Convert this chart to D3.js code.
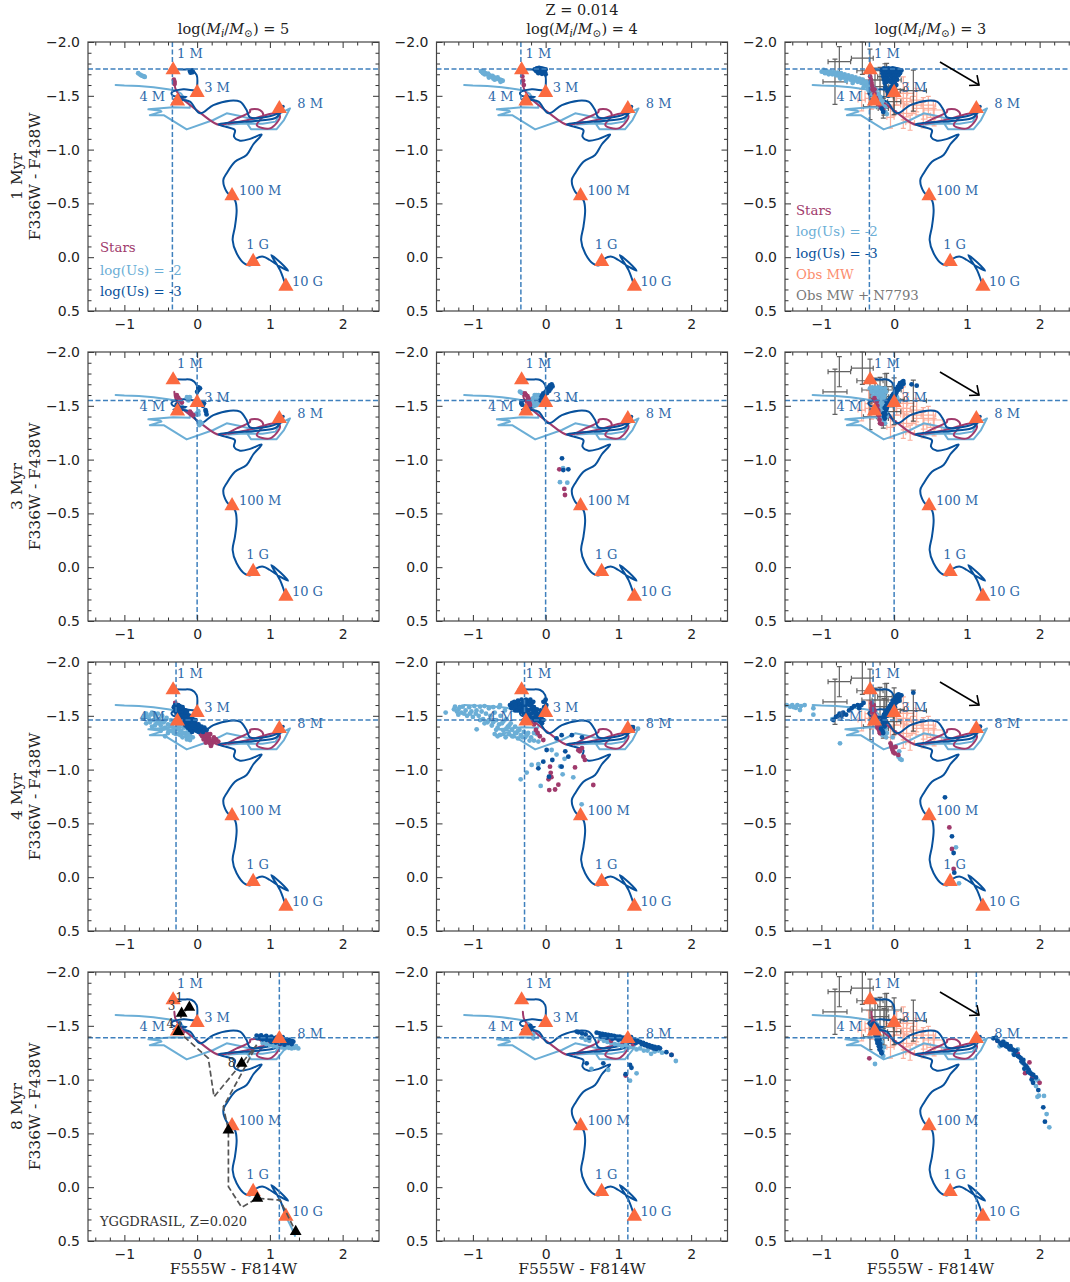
<!DOCTYPE html>
<html>
<head>
<meta charset="utf-8">
<script src="https://cdn.jsdelivr.net/npm/d3@7"></script>
<style>
body { margin: 0; background: #fff; }
svg { display: block; }
</style>
</head>
<body>
<div id="fig"></div>
<script>
// tracks
var trackLight = [[-1.12,-1.6],[-1.0,-1.595],[-0.8,-1.59],[-0.6,-1.58],[-0.4,-1.56],[-0.3,-1.55],[-0.22,-1.52],[-0.17,-1.47],[-0.1,-1.42],[-0.1,-1.39],[-0.33,-1.393],[-0.67,-1.374],[-0.5,-1.36],[-0.49,-1.353],[-0.65,-1.32],[-0.46,-1.32],[-0.144,-1.188],[0.223,-1.275],[0.406,-1.337],[0.59,-1.312],[0.82,-1.27],[0.68,-1.25],[0.74,-1.19],[1.09,-1.188],[1.194,-1.275],[1.277,-1.383],[1.14,-1.337],[1.08,-1.26],[0.9,-1.24],[0.6,-1.24],[0.4,-1.23]];
var trackStars = [[-0.313,-1.63],[-0.3,-1.57],[-0.24,-1.5],[-0.098,-1.414],[0.04,-1.343],[0.314,-1.228],[0.544,-1.29],[0.727,-1.35],[0.73,-1.37],[0.864,-1.368],[0.91,-1.32],[0.82,-1.228],[1.0,-1.197],[1.14,-1.306],[1.09,-1.337],[0.727,-1.28],[0.43,-1.24]];
var trackMain = [[-0.373,-1.746],[-0.2,-1.745],[-0.075,-1.74],[-0.006,-1.693],[0,-1.585],[-0.006,-1.554],[-0.19,-1.56],[-0.35,-1.53],[-0.33,-1.5],[-0.144,-1.49],[-0.327,-1.467],[-0.2,-1.46],[-0.098,-1.445],[0.04,-1.337],[0.223,-1.414],[0.452,-1.455],[0.59,-1.445],[0.68,-1.368],[0.727,-1.3],[1.09,-1.33],[1.16,-1.368],[1.09,-1.3],[0.864,-1.27],[0.292,-1.235],[0.406,-1.21],[0.52,-1.18],[0.507,-1.12],[0.59,-1.083],[0.73,-1.1],[0.887,-1.14],[0.773,-1.05],[0.68,-0.95],[0.52,-0.888],[0.406,-0.78],[0.36,-0.717],[0.406,-0.609],[0.52,-0.53],[0.543,-0.44],[0.52,-0.284],[0.488,-0.16],[0.543,-0.036],[0.658,0.063],[0.75,0.072],[0.818,0.01],[0.91,-0.005],[1.0,0.026],[1.14,0.088],[1.25,0.125],[1.02,-0.02],[1.14,0.12],[1.22,0.27]];
var trackEnd = [[1.18,-1.4],[1.17,-1.39]];
var trackTail = [[1.22,0.27],[1.3,0.38],[1.35,0.46]];

// age markers
var ageNames = ["1 M","3 M","4 M","8 M","100 M","1 G","10 G"];
var ageColors = [-0.33,0.0,-0.27,1.13,0.48,0.77,1.22];
var ageUB = [-1.74,-1.53,-1.45,-1.38,-0.57,0.04,0.27];

// yggdrasil
var yggX = [-0.107,-0.213,-0.258,0.612,0.43,0.828,1.355];
var yggY = [-1.672,-1.616,-1.446,-1.151,-0.53,0.103,0.413];
var yggNames = ["1","3","4","8"];
var yggPath = [[-0.107,-1.672],[-0.213,-1.616],[-0.258,-1.446],[0.154,-1.198],[0.232,-0.84],[0.612,-1.151],[0.818,-1.322],[0.612,-1.058],[0.36,-0.748],[0.43,-0.53],[0.43,-0.005],[0.612,0.187],[0.828,0.103],[1.14,0.12],[1.355,0.413]];

// observed clusters: x, y, xerr, yerr
var obsMW = [[-0.309,-1.476,0.09,0.1],[0.035,-1.523,0.15,0.11],[0.126,-1.476,0.1,0.2],[0.172,-1.445,0.07,0.14],[0.126,-1.337,0.12,0.14],[0.401,-1.383,0.15,0.1],[0.539,-1.368,0.13,0.09],[0.47,-1.414,0.1,0.08],[0.401,-1.322,0.1,0.12],[0.172,-1.523,0.1,0.1],[0.264,-1.414,0.12,0.08],[-0.011,-1.414,0.1,0.1],[0.31,-1.46,0.09,0.11],[-0.446,-1.46,0.05,0.1],[-0.05,-1.3,0.05,0.1],[0.55,-1.3,0.1,0.08],[-0.35,-1.52,0.05,0.12],[0.22,-1.25,0.06,0.07]];
var obsN7793 = [[-0.753,-1.817,0.155,0.14],[-0.813,-1.63,0.165,0.21],[-0.437,-1.85,0.15,0.15],[-0.332,-1.733,0.18,0.2],[-0.103,-1.647,0.2,0.155],[0.264,-1.548,0.18,0.19],[0,-1.56,0.14,0.2],[-0.332,-1.399,0.09,0.12],[-0.194,-1.585,0.12,0.18],[-0.14,-1.49,0.13,0.17],[-0.263,-1.647,0.18,0.11],[-0.126,-1.678,0.1,0.12],[0,-1.445,0.09,0.12],[-0.149,-1.383,0.07,0.09]];

// cluster samples per panel: row, column
var stars_11 = [[-0.32,-1.65],[-0.31,-1.63],[-0.31,-1.61]];
var us2_11 = [[-0.81,-1.71],[-0.79,-1.7],[-0.77,-1.69],[-0.75,-1.685],[-0.73,-1.68],[-0.72,-1.675]];
var us3_11 = [[-0.1,-1.73],[-0.08,-1.725],[-0.06,-1.72],[-0.09,-1.715],[-0.07,-1.735]];

var stars_12 = [[-0.32,-1.68],[-0.31,-1.64],[-0.3,-1.6]];
var us2_12 = [[-0.89,-1.73],[-0.87,-1.72],[-0.85,-1.725],[-0.83,-1.71],[-0.81,-1.7],[-0.79,-1.705],[-0.77,-1.69],[-0.75,-1.68],[-0.73,-1.685],[-0.71,-1.67],[-0.69,-1.665],[-0.67,-1.66],[-0.65,-1.655],[-0.63,-1.65],[-0.61,-1.645],[-0.59,-1.64],[-0.84,-1.7],[-0.72,-1.66],[-0.66,-1.67],[-0.86,-1.71],[-0.78,-1.67],[-0.7,-1.65],[-0.62,-1.63]];
var us3_12 = [[-0.15,-1.745],[-0.12,-1.755],[-0.09,-1.76],[-0.06,-1.755],[-0.03,-1.75],[0,-1.745],[-0.13,-1.73],[-0.1,-1.735],[-0.07,-1.73],[-0.04,-1.725],[-0.01,-1.72],[-0.1,-1.71],[-0.05,-1.705],[0,-1.7]];

var stars_13 = [[-0.33,-1.68],[-0.32,-1.65],[-0.31,-1.62],[-0.3,-1.59],[-0.286,-1.554],[-0.27,-1.52],[-0.25,-1.48],[-0.24,-1.46],[-0.21,-1.42],[-0.18,-1.39],[-0.15,-1.37],[-0.27,-1.56],[-0.3,-1.56]];
var us2_13 = [[-0.996,-1.724],[-0.97,-1.74],[-0.95,-1.71],[-0.93,-1.73],[-0.9,-1.7],[-0.88,-1.725],[-0.85,-1.7],[-0.83,-1.72],[-0.8,-1.69],[-0.78,-1.715],[-0.75,-1.68],[-0.73,-1.71],[-0.7,-1.67],[-0.68,-1.7],[-0.65,-1.66],[-0.63,-1.69],[-0.6,-1.65],[-0.58,-1.68],[-0.55,-1.64],[-0.53,-1.67],[-0.5,-1.63],[-0.48,-1.66],[-0.45,-1.62],[-0.43,-1.65],[-0.4,-1.6],[-0.38,-1.63],[-0.36,-1.58],[-0.33,-1.6],[-0.31,-1.56],[-0.29,-1.58],[-0.27,-1.53],[-0.25,-1.56],[-0.24,-1.5],[-0.22,-1.52],[-0.2,-1.46],[-0.19,-1.49],[-0.17,-1.42],[-0.16,-1.45],[-0.15,-1.38],[-0.13,-1.4],[-0.12,-1.35],[-0.1,-1.33],[-0.96,-1.72],[-0.91,-1.72],[-0.86,-1.71],[-0.81,-1.7],[-0.76,-1.695],[-0.71,-1.69],[-0.66,-1.68],[-0.61,-1.67],[-0.56,-1.66],[-0.51,-1.65],[-0.46,-1.64],[-0.41,-1.62],[-0.35,-1.61],[-0.28,-1.55],[-0.23,-1.48],[-0.74,-1.66],[-0.66,-1.64],[-0.57,-1.62],[-0.42,-1.58],[-0.35,-1.55],[-0.3,-1.51]];
var us3_13 = [[-0.17,-1.74],[-0.14,-1.755],[-0.11,-1.75],[-0.08,-1.755],[-0.05,-1.75],[-0.02,-1.755],[0.01,-1.75],[0.04,-1.745],[0.07,-1.74],[0.1,-1.735],[-0.16,-1.71],[-0.13,-1.72],[-0.1,-1.715],[-0.07,-1.72],[-0.04,-1.715],[-0.01,-1.72],[0.02,-1.71],[0.05,-1.715],[0.08,-1.71],[-0.15,-1.68],[-0.12,-1.69],[-0.09,-1.68],[-0.06,-1.69],[-0.03,-1.68],[0,-1.69],[0.03,-1.68],[0.06,-1.69],[-0.14,-1.65],[-0.11,-1.66],[-0.02,-1.65],[0.01,-1.66],[0.04,-1.65],[-0.13,-1.62],[-0.1,-1.63],[0.01,-1.62],[0.03,-1.6],[0,-1.58],[-0.02,-1.56],[-0.04,-1.54],[-0.06,-1.52],[-0.08,-1.5],[-0.17,-1.38],[-0.15,-1.35],[-0.07,-1.65],[-0.05,-1.63],[-0.02,-1.61],[-0.04,-1.58],[-0.07,-1.56],[-0.09,-1.54],[-0.12,-1.58]];

var stars_21 = [[-0.28,-1.6],[-0.26,-1.575],[-0.236,-1.554],[-0.21,-1.53],[-0.098,-1.445],[-0.08,-1.43],[-0.052,-1.414]];
var us2_21 = [[-0.14,-1.58],[-0.121,-1.575],[-0.1,-1.58],[-0.12,-1.55],[0.016,-1.45],[0,-1.43],[-0.02,-1.42],[0.02,-1.42],[0.062,-1.337],[0.04,-1.35],[0.03,-1.32]];
var us3_21 = [[0.016,-1.647],[0.039,-1.662],[0.02,-1.67],[0,-1.63],[0.094,-1.523],[0.07,-1.53],[0.05,-1.51],[0.08,-1.5],[0.122,-1.445],[0.13,-1.42],[0.115,-1.46],[-0.28,-1.51],[-0.27,-1.49]];

var stars_22 = [[-0.284,-1.616],[-0.27,-1.6],[-0.25,-1.59],[-0.238,-1.57],[-0.25,-1.55],[-0.23,-1.54],[-0.215,-1.507],[-0.22,-1.52],[0.188,-0.91],[0.257,-0.727],[0.266,-0.671]];
var us2_22 = [[-0.353,-1.631],[-0.33,-1.62],[-0.17,-1.57],[-0.1,-1.6],[-0.124,-1.507],[-0.16,-1.53],[-0.13,-1.56],[-0.15,-1.6],[-0.1,-1.56],[-0.08,-1.53],[-0.16,-1.5],[-0.11,-1.52],[-0.19,-1.52],[-0.19,-1.56],[-0.13,-1.6],[-0.07,-1.57],[0.197,-0.79],[0.298,-0.786],[0.24,-0.92]];
var us3_22 = [[0.083,-1.7],[0.06,-1.69],[0.095,-1.68],[0.04,-1.67],[0.07,-1.66],[0.037,-1.662],[0.02,-1.65],[0.05,-1.64],[0,-1.63],[0.02,-1.62],[-0.032,-1.616],[-0.01,-1.6],[-0.045,-1.6],[-0.02,-1.58],[-0.055,-1.585],[-0.05,-1.56],[-0.07,-1.55],[-0.33,-1.54],[-0.32,-1.51],[0.225,-1.012],[0.243,-0.903],[0.312,-0.91]];

var stars_23 = [[-0.27,-1.57],[-0.24,-1.538],[-0.23,-1.5],[-0.22,-1.46],[-0.217,-1.445],[-0.21,-1.41],[-0.2,-1.37],[-0.194,-1.337],[-0.17,-1.33]];
var us2_23 = [[-0.332,-1.662],[-0.3,-1.67],[-0.26,-1.665],[-0.22,-1.67],[-0.18,-1.665],[-0.125,-1.662],[-0.31,-1.63],[-0.27,-1.63],[-0.23,-1.635],[-0.19,-1.63],[-0.15,-1.63],[-0.11,-1.63],[-0.29,-1.59],[-0.25,-1.6],[-0.21,-1.59],[-0.17,-1.6],[-0.13,-1.59],[-0.25,-1.55],[-0.21,-1.55],[-0.17,-1.56],[-0.13,-1.55],[-0.22,-1.51],[-0.19,-1.5],[-0.15,-1.5],[-0.2,-1.46],[-0.16,-1.46],[-0.13,-1.47],[-0.18,-1.42],[-0.14,-1.41],[-0.16,-1.38],[-0.125,-1.337],[-0.14,-1.36],[0.04,-1.58],[0.06,-1.54],[-0.24,-1.65],[-0.2,-1.61],[-0.15,-1.58],[-0.18,-1.53],[-0.12,-1.52],[-0.11,-1.44],[-0.1,-1.4]];
var us3_23 = [[0.126,-1.73],[0.11,-1.72],[0.13,-1.705],[0.09,-1.7],[0.07,-1.69],[0.1,-1.675],[0.05,-1.675],[0.03,-1.655],[0.06,-1.65],[0.012,-1.631],[0.03,-1.62],[-0.01,-1.61],[0.01,-1.595],[-0.03,-1.59],[-0.01,-1.57],[-0.05,-1.57],[-0.03,-1.55],[-0.07,-1.55],[-0.05,-1.53],[-0.103,-1.538],[-0.08,-1.51],[-0.11,-1.5],[-0.13,-1.48],[-0.11,-1.46],[-0.148,-1.43],[-0.13,-1.43],[-0.14,-1.4],[-0.128,-1.38],[0.24,-1.7],[0.31,-1.687],[0.08,-1.71],[0.04,-1.64],[-0.02,-1.6],[-0.06,-1.56],[-0.09,-1.53],[-0.1,-1.48],[-0.12,-1.42]];

var stars_31 = [[0.039,-1.368],[0.06,-1.35],[0.08,-1.37],[0.1,-1.33],[0.07,-1.31],[0.11,-1.3],[0.13,-1.28],[0.15,-1.26],[0.177,-1.244],[0.2,-1.27],[0.23,-1.3],[0.26,-1.28],[0.291,-1.26],[0.16,-1.3],[0.19,-1.22],[-0.02,-1.39],[0,-1.42],[0.02,-1.4],[-0.3,-1.62],[-0.28,-1.6],[0.09,-1.28],[0.12,-1.25],[0.14,-1.33],[0.17,-1.28],[0.2,-1.24],[0.05,-1.33],[0.24,-1.26],[0.18,-1.33]];
var us2_31 = [[-0.74,-1.476],[-0.72,-1.5],[-0.7,-1.52],[-0.66,-1.47],[-0.64,-1.51],[-0.62,-1.53],[-0.6,-1.46],[-0.58,-1.5],[-0.56,-1.43],[-0.54,-1.52],[-0.52,-1.47],[-0.5,-1.41],[-0.48,-1.5],[-0.46,-1.44],[-0.44,-1.39],[-0.42,-1.48],[-0.4,-1.42],[-0.38,-1.36],[-0.36,-1.46],[-0.34,-1.4],[-0.32,-1.34],[-0.3,-1.44],[-0.28,-1.38],[-0.26,-1.33],[-0.24,-1.41],[-0.22,-1.36],[-0.2,-1.3],[-0.18,-1.39],[-0.16,-1.34],[-0.14,-1.28],[-0.12,-1.37],[-0.1,-1.32],[-0.098,-1.275],[-0.08,-1.35],[-0.06,-1.3],[-0.7,-1.43],[-0.58,-1.41],[-0.62,-1.4],[-0.5,-1.36],[-0.4,-1.34],[-0.44,-1.31],[-0.68,-1.49],[-0.6,-1.52],[-0.56,-1.48],[-0.52,-1.43],[-0.48,-1.45],[-0.44,-1.46],[-0.41,-1.38],[-0.37,-1.41],[-0.33,-1.44],[-0.31,-1.38],[-0.27,-1.41],[-0.25,-1.37],[-0.23,-1.32],[-0.19,-1.34],[-0.15,-1.31],[-0.13,-1.33],[-0.11,-1.29],[-0.46,-1.38],[-0.35,-1.36],[-0.29,-1.33],[-0.54,-1.44],[-0.65,-1.44]];
var us3_31 = [[-0.304,-1.6],[-0.28,-1.59],[-0.26,-1.6],[-0.24,-1.59],[-0.22,-1.58],[-0.3,-1.57],[-0.27,-1.56],[-0.24,-1.56],[-0.21,-1.56],[-0.18,-1.55],[-0.28,-1.53],[-0.25,-1.53],[-0.22,-1.53],[-0.19,-1.53],[-0.16,-1.52],[-0.13,-1.51],[-0.26,-1.5],[-0.23,-1.5],[-0.2,-1.5],[-0.17,-1.49],[-0.14,-1.49],[-0.11,-1.48],[-0.08,-1.47],[-0.21,-1.47],[-0.18,-1.46],[-0.15,-1.46],[-0.12,-1.45],[-0.09,-1.44],[-0.06,-1.44],[-0.03,-1.43],[-0.15,-1.43],[-0.12,-1.42],[-0.09,-1.41],[-0.06,-1.41],[-0.03,-1.4],[0,-1.39],[0.03,-1.38],[-0.07,-1.38],[-0.04,-1.37],[-0.01,-1.36],[0.02,-1.35],[0.06,-1.4],[0.1,-1.39],[0.131,-1.368],[-0.32,-1.58],[-0.3,-1.54],[-0.28,-1.51],[-0.25,-1.48],[-0.22,-1.45],[-0.19,-1.43],[-0.16,-1.41],[-0.13,-1.39],[-0.1,-1.37],[-0.07,-1.35],[-0.2,-1.58],[-0.16,-1.55],[-0.14,-1.54],[-0.1,-1.5],[-0.06,-1.47],[-0.02,-1.46],[0.02,-1.42],[0.05,-1.37],[0.08,-1.35]];

var stars_32 = [[-0.133,-1.368],[-0.11,-1.34],[-0.08,-1.31],[-0.032,-1.275],[0.06,-1.027],[0.07,-0.97],[0.08,-0.93],[0.04,-0.91],[0.05,-0.81],[0.13,-0.815],[0.175,-0.86],[0.655,-0.857],[0.404,-1.02],[0.45,-1.18],[0.52,-1.12],[0.54,-1.09],[0.47,-1.17],[0.5,-1.2],[-0.28,-1.49],[-0.25,-1.47],[-0.2,-1.45],[-0.16,-1.42],[1.2,-1.37]];
var us2_32 = [[-1.374,-1.53],[-1.246,-1.585],[-1.2,-1.56],[-1.22,-1.54],[-1.16,-1.53],[-1.14,-1.585],[-1.1,-1.55],[-1.08,-1.5],[-1.05,-1.58],[-1.02,-1.54],[-1.0,-1.49],[-0.98,-1.59],[-0.95,-1.55],[-0.948,-1.374],[-0.92,-1.5],[-0.9,-1.585],[-0.88,-1.54],[-0.86,-1.47],[-0.84,-1.59],[-0.82,-1.52],[-0.8,-1.44],[-0.78,-1.57],[-0.76,-1.5],[-0.74,-1.41],[-0.72,-1.58],[-0.7,-1.53],[-0.68,-1.46],[-0.66,-1.39],[-0.64,-1.58],[-0.627,-1.6],[-0.62,-1.5],[-0.6,-1.43],[-0.58,-1.36],[-0.627,-1.322],[-0.56,-1.55],[-0.54,-1.47],[-0.52,-1.4],[-0.5,-1.33],[-0.48,-1.43],[-0.46,-1.37],[-0.44,-1.31],[-0.42,-1.4],[-0.4,-1.34],[-0.38,-1.29],[-0.36,-1.37],[-0.34,-1.32],[-0.3,-1.35],[-0.28,-1.3],[-0.24,-1.34],[-0.2,-1.3],[-0.16,-1.27],[-0.12,-1.33],[-0.1,-1.26],[-0.7,-1.33],[-0.66,-1.31],[-0.55,-1.3],[-0.192,-1.043],[-0.1,-1.05],[-0.343,-0.91],[-0.26,-0.972],[-0.068,-0.848],[0.234,-0.956],[0.38,-0.928],[0.083,-1.182],[0.495,-0.677],[0.2,-1.03],[0.26,-1.1],[0.15,-1.14],[1.27,-1.38],[-1.18,-1.58],[-1.12,-1.52],[-1.04,-1.52],[-0.96,-1.52],[-0.9,-1.46],[-0.84,-1.43],[-0.78,-1.46],[-0.72,-1.44],[-0.68,-1.37],[-0.64,-1.42],[-0.58,-1.45],[-0.54,-1.38],[-0.5,-1.41],[-0.46,-1.31],[-0.42,-1.34],[-0.38,-1.36],[-0.32,-1.3],[-0.26,-1.32],[-0.22,-1.27],[-0.16,-1.34],[-1.26,-1.56],[-1.2,-1.51]];
var us3_32 = [[-0.49,-1.6],[-0.47,-1.57],[-0.46,-1.62],[-0.44,-1.59],[-0.42,-1.55],[-0.43,-1.63],[-0.4,-1.61],[-0.38,-1.58],[-0.38,-1.64],[-0.36,-1.55],[-0.35,-1.61],[-0.33,-1.65],[-0.32,-1.58],[-0.31,-1.62],[-0.3,-1.52],[-0.29,-1.56],[-0.27,-1.65],[-0.27,-1.6],[-0.25,-1.63],[-0.24,-1.55],[-0.23,-1.5],[-0.22,-1.6],[-0.21,-1.65],[-0.2,-1.56],[-0.19,-1.62],[-0.18,-1.48],[-0.17,-1.53],[-0.16,-1.58],[-0.15,-1.46],[-0.14,-1.5],[-0.12,-1.47],[-0.1,-1.5],[-0.08,-1.45],[-0.07,-1.55],[-0.05,-1.5],[-0.03,-1.63],[-0.02,-1.58],[0,-1.65],[0.01,-1.6],[-0.01,-1.55],[-0.05,-1.43],[0.014,-1.182],[0.15,-1.29],[-0.032,-1.074],[-0.1,-1.012],[0.092,-1.089],[0.22,-1.027],[0.312,-1.12],[0.27,-1.17],[0.36,-1.32],[0.5,-1.3],[0.22,-1.32],[0.046,-0.934],[1.2,-1.395],[-0.41,-1.58],[-0.39,-1.55],[-0.35,-1.58],[-0.33,-1.54],[-0.3,-1.59],[-0.28,-1.63],[-0.26,-1.56],[-0.26,-1.52],[-0.22,-1.64],[-0.2,-1.6],[-0.2,-1.52],[-0.18,-1.58],[-0.17,-1.63],[-0.15,-1.55],[-0.13,-1.53],[-0.12,-1.56],[-0.1,-1.46],[-0.08,-1.52],[-0.06,-1.47],[-0.03,-1.53],[-0.03,-1.46],[0,-1.58],[0,-1.52]];

var stars_33 = [[-0.309,-1.616],[-0.3,-1.59],[-0.29,-1.57],[-0.31,-1.56],[-0.28,-1.54],[-0.3,-1.53],[-0.27,-1.51],[-0.29,-1.49],[-0.26,-1.47],[-0.27,-1.44],[-0.24,-1.42],[-0.23,-1.39],[-0.21,-1.37],[-0.194,-1.337],[-0.05,-1.244],[-0.04,-1.22],[-0.03,-1.2],[-0.02,-1.18],[-0.01,-1.16],[0.01,-1.15],[0.058,-1.136],[0.759,-0.463],[0.795,-0.262],[0.818,-0.076],[0.02,-1.21],[-0.28,-1.6],[-0.27,-1.55],[-0.26,-1.5],[-0.25,-1.45],[-0.22,-1.41],[-0.2,-1.35]];
var us2_33 = [[-1.477,-1.6],[-1.43,-1.585],[-1.4,-1.6],[-1.38,-1.58],[-1.35,-1.575],[-1.33,-1.6],[-1.294,-1.554],[-1.28,-1.59],[-1.23,-1.6],[-1.11,-1.57],[-1.11,-1.51],[-0.744,-1.244],[-0.85,-1.47],[-0.02,-1.3],[-0.1,-1.34],[-0.11,-1.3],[-0.12,-1.38],[-0.16,-1.32],[0.06,-1.12],[0.08,-1.1],[0.103,-1.09],[0.85,-0.278],[0.892,0.057],[0.07,-1.17]];
var us3_33 = [[-0.836,-1.461],[-0.8,-1.49],[-0.77,-1.5],[-0.75,-1.52],[-0.72,-1.5],[-0.7,-1.53],[-0.66,-1.51],[-0.62,-1.55],[-0.584,-1.57],[-0.55,-1.59],[-0.5,-1.6],[-0.48,-1.57],[-0.45,-1.6],[-0.42,-1.62],[0.264,-1.715],[0.08,-1.693],[0.06,-1.7],[0.04,-1.69],[0.07,-1.67],[0.03,-1.665],[0.01,-1.66],[0.05,-1.65],[0,-1.635],[-0.02,-1.64],[0.02,-1.62],[-0.04,-1.61],[-0.01,-1.6],[-0.06,-1.59],[-0.03,-1.58],[-0.08,-1.57],[-0.05,-1.55],[-0.1,-1.55],[-0.07,-1.54],[-0.12,-1.53],[-0.09,-1.52],[-0.14,-1.51],[-0.11,-1.5],[-0.149,-1.49],[-0.13,-1.47],[-0.16,-1.46],[-0.14,-1.44],[-0.17,-1.42],[-0.18,-1.38],[-0.16,-1.36],[-0.15,-1.34],[0.699,-0.742],[0.795,-0.38],[0.818,-0.225],[0.827,-0.042],[1.18,-1.4],[0.1,-1.69],[0.07,-1.64],[0.04,-1.63],[0.01,-1.58],[-0.03,-1.54],[-0.1,-1.5],[-0.12,-1.44],[-0.13,-1.4]];

var stars_41 = [[-0.24,-1.48],[-0.2,-1.44],[0.9,-1.38],[1.0,-1.36],[1.14,-1.33],[1.2,-1.35]];
var us2_41 = [[-0.23,-1.46],[-0.22,-1.43],[0.9,-1.34],[0.95,-1.33],[1.0,-1.32],[1.05,-1.31],[1.1,-1.305],[1.14,-1.306],[1.18,-1.31],[1.22,-1.3],[1.26,-1.295],[1.3,-1.29],[1.34,-1.295],[1.39,-1.29],[1.36,-1.31],[1.3,-1.32],[1.24,-1.32],[1.18,-1.33],[1.12,-1.33],[1.06,-1.335],[0.98,-1.34],[1.03,-1.33],[1.08,-1.32],[1.16,-1.3],[1.2,-1.29],[1.28,-1.31]];
var us3_41 = [[-0.26,-1.5],[-0.24,-1.52],[-0.25,-1.48],[0.818,-1.408],[0.85,-1.4],[0.88,-1.41],[0.92,-1.395],[0.95,-1.405],[0.98,-1.39],[1.02,-1.4],[1.06,-1.385],[1.1,-1.395],[1.14,-1.38],[1.18,-1.385],[1.22,-1.37],[1.26,-1.37],[1.3,-1.36],[1.322,-1.352],[0.9,-1.375],[0.95,-1.37],[1.0,-1.365],[1.05,-1.36],[1.1,-1.355],[1.15,-1.35],[1.2,-1.345],[1.25,-1.34],[1.3,-1.33],[0.83,-1.385],[0.87,-1.385],[0.93,-1.38],[0.98,-1.375],[1.03,-1.38],[1.08,-1.37],[1.13,-1.365],[1.18,-1.36],[1.23,-1.355],[1.28,-1.345],[1.02,-1.35],[1.08,-1.345],[1.14,-1.335],[1.2,-1.325]];

var stars_42 = [[1.1,-1.037],[0.9,-1.36],[1.2,-1.33],[1.73,-1.229]];
var us2_42 = [[-0.169,-1.384],[-0.17,-1.42],[0.5,-1.39],[0.55,-1.37],[0.6,-1.36],[0.75,-1.38],[0.8,-1.36],[0.85,-1.35],[0.9,-1.34],[0.95,-1.33],[1.0,-1.325],[1.1,-1.32],[1.2,-1.3],[1.3,-1.29],[1.4,-1.27],[1.5,-1.26],[1.45,-1.24],[1.6,-1.25],[1.79,-1.173],[0.63,-1.1],[0.86,-1.09],[1.25,-1.058],[1.16,-0.99],[1.05,-1.31],[1.15,-1.3],[1.25,-1.28],[1.35,-1.27],[1.55,-1.27]];
var us3_42 = [[-0.215,-1.461],[-0.2,-1.48],[-0.21,-1.5],[0.427,-1.446],[0.45,-1.44],[0.5,-1.43],[0.55,-1.42],[0.6,-1.39],[0.702,-1.436],[0.74,-1.43],[0.78,-1.425],[0.82,-1.42],[0.86,-1.415],[0.9,-1.41],[0.94,-1.405],[0.98,-1.4],[1.02,-1.4],[1.06,-1.39],[1.1,-1.39],[1.137,-1.384],[1.18,-1.38],[1.22,-1.37],[1.26,-1.36],[1.3,-1.35],[1.34,-1.34],[1.38,-1.33],[1.42,-1.32],[1.46,-1.31],[1.5,-1.305],[1.55,-1.3],[1.572,-1.291],[0.76,-1.4],[0.84,-1.39],[0.92,-1.38],[1.0,-1.37],[1.08,-1.36],[1.16,-1.35],[1.24,-1.34],[1.32,-1.33],[1.4,-1.31],[1.48,-1.29],[0.564,-1.151],[0.793,-1.151],[1.16,-1.136],[1.18,-1.11],[1.1,-1.05],[1.66,-1.255],[1.73,-1.229],[0.8,-1.4],[0.88,-1.395],[0.96,-1.385],[1.04,-1.375],[1.12,-1.37],[1.2,-1.36],[1.28,-1.35],[1.36,-1.32],[1.44,-1.3],[1.52,-1.285]];

var stars_43 = [[-0.341,-1.198],[-0.29,-1.54],[-0.27,-1.5],[1.42,-1.36],[1.55,-1.31],[1.7,-1.24],[1.86,-1.16],[1.9,-1.02],[2.0,-0.97],[1.8,-1.06]];
var us2_43 = [[-0.263,-1.145],[-0.2,-1.34],[-0.18,-1.3],[-0.16,-1.26],[-0.15,-1.22],[-0.17,-1.25],[1.45,-1.31],[1.52,-1.34],[1.58,-1.29],[1.64,-1.24],[1.7,-1.28],[1.76,-1.16],[1.8,-1.12],[1.87,-1.07],[1.93,-1.0],[1.95,-0.94],[1.98,-0.99],[1.99,-0.85],[2.06,-0.848],[2.096,-0.68],[2.133,-0.556],[1.97,-0.84],[-0.14,-1.3],[-0.17,-1.35]];
var us3_43 = [[-0.3,-1.51],[-0.28,-1.52],[-0.26,-1.51],[-0.24,-1.5],[-0.29,-1.48],[-0.27,-1.48],[-0.25,-1.47],[-0.23,-1.46],[-0.27,-1.45],[-0.25,-1.44],[-0.23,-1.43],[-0.26,-1.42],[-0.24,-1.4],[-0.22,-1.4],[-0.24,-1.37],[-0.22,-1.37],[-0.2,-1.37],[-0.23,-1.34],[-0.21,-1.34],[-0.19,-1.33],[-0.21,-1.31],[-0.19,-1.3],[-0.2,-1.28],[-0.18,-1.26],[-0.172,-1.244],[1.363,-1.384],[1.4,-1.39],[1.42,-1.36],[1.46,-1.34],[1.5,-1.352],[1.52,-1.32],[1.55,-1.33],[1.57,-1.3],[1.6,-1.31],[1.62,-1.28],[1.638,-1.275],[1.66,-1.26],[1.68,-1.27],[1.7,-1.22],[1.72,-1.21],[1.74,-1.2],[1.776,-1.182],[1.78,-1.15],[1.81,-1.13],[1.83,-1.11],[1.85,-1.09],[1.87,-1.06],[1.89,-1.05],[1.913,-1.043],[1.89,-1.0],[1.95,-1.02],[1.91,-0.97],[1.982,-0.903],[2.05,-0.742],[2.073,-0.609],[1.48,-1.32],[1.54,-1.31],[1.59,-1.28],[1.65,-1.23],[1.75,-1.17],[1.79,-1.1],[1.84,-1.07]];

var rowAges = ["1 Myr","3 Myr","4 Myr","8 Myr"];
var colMass = [5,4,3];
var medianX = [-0.34,0.0,-0.29,1.13];
var medianY = [-1.75,-1.55,-1.46,-1.39];
var xTicks = [-1,0,1,2];
var yTicks = [-2,-1.5,-1,-0.5,0,0.5];
var xMinor = [-1.4,-1.2,-0.8,-0.6,-0.4,-0.2,0.2,0.4,0.6,0.8,1.2,1.4,1.6,1.8,2.2,2.4];
var yMinor = [-1.9,-1.8,-1.7,-1.6,-1.4,-1.3,-1.2,-1.1,-0.9,-0.8,-0.7,-0.6,-0.4,-0.3,-0.2,-0.1,0.1,0.2,0.3,0.4];
var legend1 = ["Stars","log(Us) = -2","log(Us) = -3"];
var legend3 = ["Stars","log(Us) = -2","log(Us) = -3","Obs MW","Obs MW + N7793"];

var clusters = [
  [[stars_11,us2_11,us3_11],[stars_12,us2_12,us3_12],[stars_13,us2_13,us3_13]],
  [[stars_21,us2_21,us3_21],[stars_22,us2_22,us3_22],[stars_23,us2_23,us3_23]],
  [[stars_31,us2_31,us3_31],[stars_32,us2_32,us3_32],[stars_33,us2_33,us3_33]],
  [[stars_41,us2_41,us3_41],[stars_42,us2_42,us3_42],[stars_43,us2_43,us3_43]]
];

var colStars = "#a03a6c", colLight = "#6baed6", colDark = "#08519c", colTri = "#fb6a40";
var colDash = "#3f80bd", colLabel = "#2f6aaa", colObs = "#fca08a", colGray = "#3c3c3c";
var serif = "'DejaVu Serif', serif", sans = "'DejaVu Sans', sans-serif";

var W = 1070, H = 1282;
var panelW = 291, panelH = 269;
var lefts = [88,436.5,785];
var tops = [42,352,662,972];

var svg = d3.select("#fig").append("svg").attr("width",W).attr("height",H);

var x = d3.scaleLinear().domain([-1.5,2.5]).range([0,panelW]);
var y = d3.scaleLinear().domain([-2,0.5]).range([0,panelH]);
var line = d3.line().x(d=>x(d[0])).y(d=>y(d[1]));
var smooth = d3.line().x(d=>x(d[0])).y(d=>y(d[1])).curve(d3.curveCatmullRom.alpha(0.5));
var tri = d3.symbol().type(d3.symbolTriangle);

// offsets of the age labels from their triangles, px
var labelDx = [4,7,-38,18,7,-7,6], labelDy = [-16,-5,-5,-5,-5,-17,-5];

function massTitle(sel, cx, cy, m){
  var t = sel.append("text").attr("x",cx).attr("y",cy).attr("text-anchor","middle")
    .attr("font-family",serif).attr("font-size",14.5).attr("fill","#222");
  t.append("tspan").text("log(");
  t.append("tspan").attr("font-style","italic").text("M");
  t.append("tspan").attr("font-style","italic").attr("font-size",10.5).attr("dy",3).text("i");
  t.append("tspan").attr("dy",-3).text("/");
  t.append("tspan").attr("font-style","italic").text("M");
  t.append("tspan").attr("font-size",10.5).attr("dy",3).text("\u2299");
  t.append("tspan").attr("dy",-3).text(") = "+m);
}

rowAges.forEach(function(age,r){
  colMass.forEach(function(m,c){
    var g = svg.append("g").attr("transform","translate("+lefts[c]+","+tops[r]+")");

    // observed points go under the tracks
    if(c==2){
      [[obsMW,colObs],[obsN7793,colGray]].forEach(function(o){
        var eb = g.append("g").attr("stroke",o[1]).attr("stroke-width",1.2).attr("fill","none").attr("opacity",o[1]==colGray?0.8:0.85);
        o[0].forEach(function(d){
          var p = "M"+x(d[0]-d[2])+","+y(d[1])+"H"+x(d[0]+d[2])
            +"M"+x(d[0])+","+y(d[1]-d[3])+"V"+y(d[1]+d[3])
            +"M"+(x(d[0]-d[2]))+","+(y(d[1])-2.5)+"v5"
            +"M"+(x(d[0]+d[2]))+","+(y(d[1])-2.5)+"v5"
            +"M"+(x(d[0])-2.5)+","+y(d[1]-d[3])+"h5"
            +"M"+(x(d[0])-2.5)+","+y(d[1]+d[3])+"h5";
          eb.append("path").attr("d",p);
        });
      });
    }

    g.append("path").datum(trackLight).attr("d",line).attr("fill","none").attr("stroke",colLight)
      .attr("stroke-width",2).attr("stroke-linejoin","round").attr("stroke-linecap","round");
    [[trackStars,colStars],[trackMain,colDark]].forEach(function(t){
      g.append("path").datum(t[0]).attr("d",smooth).attr("fill","none").attr("stroke",t[1])
        .attr("stroke-width",2).attr("stroke-linejoin","round").attr("stroke-linecap","round");
    });
    g.selectAll(".end").data(trackEnd).enter().append("circle").attr("class","end")
      .attr("cx",d=>x(d[0])).attr("cy",d=>y(d[1])).attr("r",1.8).attr("fill",colDark);
    if(r==3 && c==0){
      g.append("path").datum(trackTail).attr("d",line).attr("fill","none").attr("stroke",colLight).attr("stroke-width",2);
    }

    // clusters
    var set = clusters[r][c];
    [colLight,colStars,colDark].forEach(function(col,i){
      var pts = set[[1,0,2][i]];
      g.selectAll(".p"+i).data(pts).enter().append("circle").attr("class","p"+i)
        .attr("cx",d=>x(d[0])).attr("cy",d=>y(d[1])).attr("r",2.4).attr("fill",col);
    });

    // medians
    g.append("line").attr("x1",0).attr("x2",panelW).attr("y1",y(medianY[r])).attr("y2",y(medianY[r]))
      .attr("stroke",colDash).attr("stroke-width",1.5).attr("stroke-dasharray","5,2.5");
    g.append("line").attr("x1",x(medianX[r])).attr("x2",x(medianX[r])).attr("y1",0).attr("y2",panelH)
      .attr("stroke",colDash).attr("stroke-width",1.5).attr("stroke-dasharray","5,2.5");

    // age triangles
    ageNames.forEach(function(n,i){
      g.append("path").attr("d",tri.size(100)()).attr("fill",colTri)
        .attr("transform","translate("+x(ageColors[i])+","+y(ageUB[i])+")");
      g.append("text").attr("x",x(ageColors[i])+labelDx[i]).attr("y",y(ageUB[i])+labelDy[i])
        .attr("dominant-baseline","central").attr("font-family",serif).attr("font-size",13)
        .attr("fill",colLabel).text(n);
    });

    // yggdrasil models on the bottom left panel
    if(r==3 && c==0){
      g.append("path").datum(yggPath).attr("d",line).attr("fill","none").attr("stroke","#555")
        .attr("stroke-width",1.7).attr("stroke-dasharray","6,3");
      yggX.forEach(function(v,i){
        g.append("path").attr("d",tri.size(60)()).attr("fill","#000")
          .attr("transform","translate("+x(v)+","+y(yggY[i])+")");
      });
      var yggDx = [-10,-10,-8,-10], yggDy = [-5,-3,-4,4], yggIdx = [0,1,2,3];
      yggNames.forEach(function(n,i){
        g.append("text").attr("x",x(yggX[yggIdx[i]])+yggDx[i]).attr("y",y(yggY[yggIdx[i]])+yggDy[i])
          .attr("font-family",serif).attr("font-size",12).attr("fill","#333").attr("text-anchor","middle").text(n);
      });
      g.append("text").attr("x",12).attr("y",254).attr("font-family",serif).attr("font-size",13)
        .attr("fill","#333").text("YGGDRASIL, Z=0.020");
    }

    // extinction arrow
    if(c==2){
      var ax0=x(0.63), ay0=y(-1.814), ax1=x(1.167), ay1=y(-1.6);
      g.append("line").attr("x1",ax0).attr("y1",ay0).attr("x2",ax1).attr("y2",ay1).attr("stroke","#000").attr("stroke-width",1.6);
      g.append("path").attr("d","M"+(ax1-2)+","+(ay1-10)+"L"+ax1+","+ay1+"L"+(ax1-10)+","+(ay1+0.5))
        .attr("fill","none").attr("stroke","#000").attr("stroke-width",1.6);
    }

    // axes
    var axB = d3.axisBottom(x).tickValues(xTicks).tickSize(-6).tickPadding(8).tickFormat(d=>String(d).replace("-","\u2212"));
    var axL = d3.axisLeft(y).tickValues(yTicks).tickSize(-6).tickPadding(8).tickFormat(d=>d3.format(".1f")(d).replace("-","\u2212"));
    var axT = d3.axisTop(x).tickValues(xTicks).tickSize(-6).tickFormat("");
    var axR = d3.axisRight(y).tickValues(yTicks).tickSize(-6).tickFormat("");
    var minors = [
      [d3.axisBottom(x).tickValues(xMinor).tickSize(-3.5).tickFormat(""),0,panelH],
      [d3.axisTop(x).tickValues(xMinor).tickSize(-3.5).tickFormat(""),0,0],
      [d3.axisLeft(y).tickValues(yMinor).tickSize(-3.5).tickFormat(""),0,0],
      [d3.axisRight(y).tickValues(yMinor).tickSize(-3.5).tickFormat(""),panelW,0],
      [axB,0,panelH],[axT,0,0],[axL,0,0],[axR,panelW,0]
    ];
    minors.forEach(function(a){
      var ag = g.append("g").attr("transform","translate("+a[1]+","+a[2]+")").call(a[0]);
      ag.selectAll("path.domain").remove();
      ag.selectAll("line").attr("stroke","#333").attr("stroke-width",1);
      ag.selectAll("text").attr("font-family",sans).attr("font-size",14).attr("fill","#222");
    });
    g.append("rect").attr("width",panelW).attr("height",panelH).attr("fill","none").attr("stroke","#444").attr("stroke-width",1.2);

    if(c==0){
      g.append("text").attr("transform","translate(-66,"+(panelH/2)+") rotate(-90)").attr("text-anchor","middle")
        .attr("font-family",serif).attr("font-size",15.5).attr("fill","#222").text(age);
      g.append("text").attr("transform","translate(-48,"+(panelH/2)+") rotate(-90)").attr("text-anchor","middle")
        .attr("font-family",serif).attr("font-size",15.5).attr("fill","#222").text("F336W - F438W");
    }
    if(r==3){
      g.append("text").attr("x",panelW/2).attr("y",panelH+33).attr("text-anchor","middle")
        .attr("font-family",serif).attr("font-size",15.5).attr("fill","#222").text("F555W - F814W");
    }
    if(r==0){ massTitle(svg, lefts[c]+panelW/2, 34, m); }
  });
});

svg.append("text").attr("x",lefts[1]+panelW/2).attr("y",15).attr("text-anchor","middle")
  .attr("font-family",serif).attr("font-size",14.5).attr("fill","#222").text("Z = 0.014");

// legends
var legCols = [colStars,colLight,colDark,"#fc8d6e","#777777"];
var leg1Y = [247,270,291], leg3Y = [210,231,253,274,295];
legend1.forEach(function(t,i){
  svg.append("text").attr("x",100).attr("y",leg1Y[i]).attr("dominant-baseline","central")
    .attr("font-family",serif).attr("font-size",13.3).attr("fill",legCols[i]).text(t);
});
legend3.forEach(function(t,i){
  svg.append("text").attr("x",796).attr("y",leg3Y[i]).attr("dominant-baseline","central")
    .attr("font-family",serif).attr("font-size",13.3).attr("fill",legCols[i]).text(t);
});
</script>
</body>
</html>
